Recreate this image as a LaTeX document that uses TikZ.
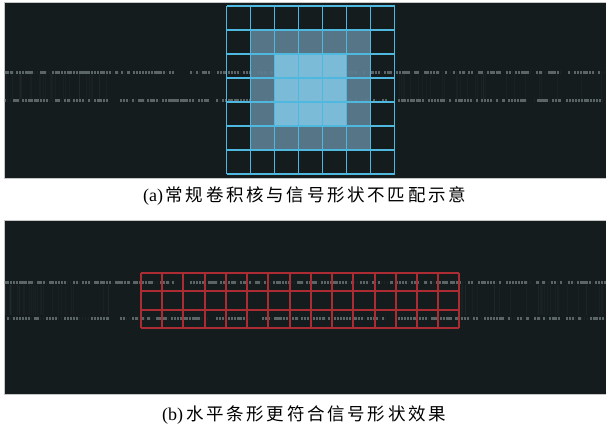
\documentclass[tikz,border=0pt]{standalone}
\usepackage{fontspec}
\setmainfont{Liberation Serif}
\newfontfamily\cjkfont{Noto Sans CJK SC}
\definecolor{panel}{RGB}{21,28,30}
\definecolor{sig}{RGB}{150,162,162}
\definecolor{gridblue}{RGB}{78,184,222}
\definecolor{ringblue}{RGB}{92,124,142}
\definecolor{coreblue}{RGB}{128,194,222}
\definecolor{gridred}{RGB}{172,44,52}
\tikzset{
  panelbox/.style={fill=panel, draw=gray!45, line width=0.8pt},
  sigmark/.style={fill=sig, fill opacity=0.55},
  streak/.style={draw=sig, draw opacity=0.04, line width=0.8pt},
  kline/.style={draw=gridblue, line width=1.6pt, opacity=1},
  rline/.style={draw=gridred, line width=2pt, opacity=1},
  caption/.style={anchor=west, inner sep=0pt, text=black}
}
\makeatletter
\newcommand\pitched[2]{\@tfor\ch:=#2\do{\makebox[#1][l]{\ch}}}
\makeatother
\newcommand\sigsegs[2]{%
  \foreach \a/\b in #2{%
    \pgfmathtruncatemacro\nn{(\b-\a)/3}%
    \foreach \k in {0,...,\nn}{%
      \pgfmathsetmacro\xx{\a+3*\k}%
      \pgfmathsetmacro\rr{rnd}%
      \pgfmathsetmacro\ww{\rr<0.22?0.01:(\rr<0.8?1.5:3.0)}%
      \fill[sigmark] (\xx,#1-1.5) rectangle ++(\ww,3);
    }}}
\newcommand\streaks[4]{% y1, y2, x1, x2
  \foreach \k in {0,...,28}{%
    \pgfmathsetmacro\xx{#3+rnd*(#4-#3)}%
    \draw[streak] (\xx,#1) -- (\xx,#2);
  }}
\def\rowA{4/127,133/172,190/226,228/392,396/418,424/446,450/472,478/500,506/530,536/562,568/604}
\def\rowB{4/107,120/207,216/250,262/386,398/450,455/476,481/502,508/528,534/560,566/604}
\begin{document}
\begin{tikzpicture}[x=1pt,y=-1pt]
\pgfmathsetseed{42}
\useasboundingbox (0,0) rectangle (606,429);
\fill[white] (0,0) rectangle (606,429);
% ---------- panel (a)
\path[panelbox] (4,2) rectangle (606,178);
\streaks{74}{99}{5}{110}
\streaks{74}{99}{396}{604}
\sigsegs{72}{\rowA}
\sigsegs{100}{\rowB}
\begin{scope}[shift={(226.5,6)}]
  \fill[ringblue, fill opacity=0.93] (24,24) rectangle (144,144);
  \fill[coreblue, fill opacity=0.92] (48,48) rectangle (120,120);
  \draw[kline] \foreach \i in {0,...,7}{(\i*24,0) -- (\i*24,168) (0,\i*24) -- (168,\i*24)};
\end{scope}
\node[caption] (capa) at (143,196) {\fontsize{18}{20}\selectfont(a)\hspace{2.5pt}\cjkfont\fontsize{17.5}{20}\selectfont\pitched{20.2pt}{常规卷积核与信号形状不匹配示意}};
% ---------- panel (b)
\path[panelbox] (4,220) rectangle (606,394);
\streaks{285}{315}{5}{110}
\streaks{285}{315}{460}{604}
\sigsegs{282}{\rowA}
\sigsegs{318}{\rowB}
\draw[rline] \foreach \x in {141,162,183,205,226,247,268,290,311,332,353,375,396,417,438,459}{(\x,273) -- (\x,328)}
             \foreach \y in {273,291,310,328}{(141,\y) -- (459,\y)};
\node[caption] (capb) at (162,415) {\fontsize{18}{20}\selectfont(b)\hspace{3pt}\cjkfont\fontsize{17.5}{20}\selectfont\pitched{20.2pt}{水平条形更符合信号形状效果}};
\end{tikzpicture}
\end{document}
